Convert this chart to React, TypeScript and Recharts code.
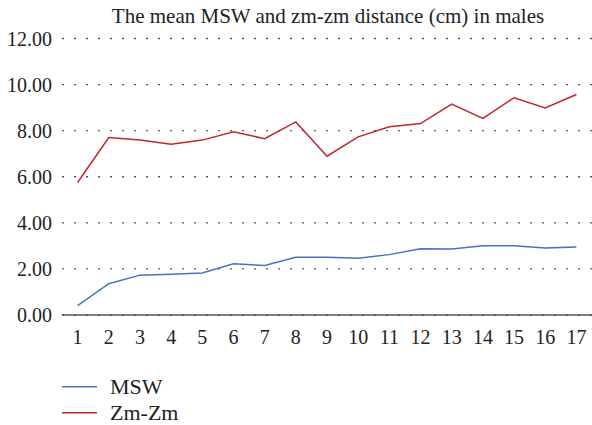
import React from 'react';
import { LineChart, Line, XAxis, YAxis, CartesianGrid, Legend } from 'recharts';

const categories = ['1','2','3','4','5','6','7','8','9','10','11','12','13','14','15','16','17'];
const mswValues = [0.41, 1.36, 1.73, 1.77, 1.82, 2.22, 2.15, 2.51, 2.51, 2.46, 2.62, 2.88, 2.86, 3.01, 3.01, 2.91, 2.95];
const zmValues = [5.75, 7.70, 7.59, 7.41, 7.59, 7.95, 7.65, 8.38, 6.89, 7.73, 8.17, 8.31, 9.15, 8.53, 9.43, 8.99, 9.57];
const yTicks = [0, 2, 4, 6, 8, 10, 12];
const seriesNames = ['MSW', 'Zm-Zm'];
const titleText = 'The mean MSW and zm-zm distance (cm) in males';

const data = categories.map((c, i) => ({ cat: c, msw: mswValues[i], zm: zmValues[i] }));

const FONT = '"Liberation Serif", "DejaVu Serif", serif';
const BLUE = '#4472C4';
const RED = '#C0272D';

const W = 592;
const H = 425;

const LegendContent = () => (
  <div style={{ width: W, height: 70 }}>
    <svg width={W} height={70} style={{ overflow: 'visible' }}>
      {[BLUE, RED].map((col, i) => (
        <g key={i}>
          <line x1={62} x2={97} y1={41.7 + i * 26} y2={41.7 + i * 26} stroke={col} strokeWidth={1.6} />
          <text x={110} y={41.7 + i * 26} dy="0.33em" fontFamily={FONT} fontSize={22} fill="#222">
            {seriesNames[i]}
          </text>
        </g>
      ))}
    </svg>
  </div>
);

export default function App() {
  return (
    <div style={{ position: 'fixed', left: 0, top: 0, width: W, height: H, overflow: 'hidden', background: '#fff' }}>
      <LineChart width={W} height={H} data={data} margin={{ top: 38.5, right: 0, left: 8, bottom: 10 }}>
        <CartesianGrid vertical={false} stroke="#5a5a5a" strokeWidth={1.3} strokeDasharray="2 10" />
        <XAxis
          dataKey="cat"
          padding={{ left: 15.6, right: 15.6 }}
          tickLine={false}
          tickSize={6}
          tickMargin={8.5}
          height={30}
          axisLine={{ stroke: '#555', strokeWidth: 1.4 }}
          tick={{ fontFamily: FONT, fontSize: 20, fill: '#222' }}
          interval={0}
        />
        <YAxis
          domain={[0, 12]}
          ticks={yTicks}
          width={54}
          axisLine={false}
          tickLine={false}
          tickSize={6}
          tickMargin={4}
          tickFormatter={(v: number) => v.toFixed(2)}
          tick={{ fontFamily: FONT, fontSize: 20, fill: '#222' }}
        />
        <Legend
          verticalAlign="bottom"
          layout="horizontal"
          wrapperStyle={{ left: 0, top: 345, width: W, height: 70 }}
          content={() => <LegendContent />}
        />
        <Line dataKey="msw" name={seriesNames[0]} stroke={BLUE} strokeWidth={1.5} dot={false} isAnimationActive={false} />
        <Line dataKey="zm" name={seriesNames[1]} stroke={RED} strokeWidth={1.5} dot={false} isAnimationActive={false} />
      </LineChart>
      <svg width={W} height={30} style={{ position: 'absolute', left: 0, top: 0, pointerEvents: 'none' }}>
        <text x={328} y={22.7} textAnchor="middle" fontFamily={FONT} fontSize={21} fill="#222">
          {titleText}
        </text>
      </svg>
    </div>
  );
}
